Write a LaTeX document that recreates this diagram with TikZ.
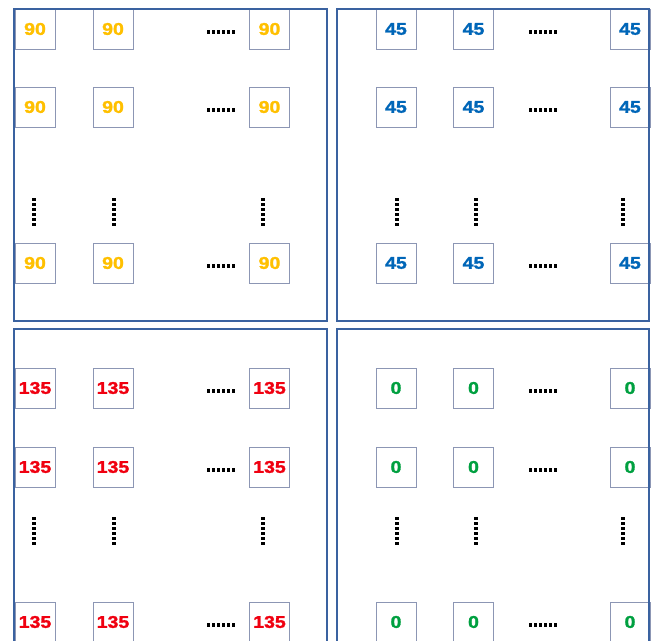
\documentclass[tikz,border=0pt]{standalone}
\usepackage{fontspec}
\setmainfont{Liberation Sans}
\newfontfamily\numfont{Liberation Sans Bold}[FakeStretch=1.15,FakeBold=1.6]
\definecolor{panelblue}{HTML}{3A62A0}
\definecolor{cellgray}{HTML}{8C96B4}
\definecolor{cgold}{HTML}{FFC000}
\definecolor{cblue}{HTML}{0066B8}
\definecolor{cred}{HTML}{F00010}
\definecolor{cgreen}{HTML}{00A040}
\tikzset{
  panel/.style={draw=panelblue, line width=2pt},
  cell/.style={draw=cellgray, line width=1pt, minimum size=40pt, inner sep=0pt, fill=white,
    font=\numfont\fontsize{17}{18}\selectfont},
  dotrow/.style={line width=3.2pt, dash pattern=on 3pt off 2pt, black}
}
\begin{document}
\begin{tikzpicture}[x=1pt,y=-1pt]
\clip (0,0) rectangle (656,640);
\fill[white] (0,0) rectangle (656,640);
% cells
\foreach \r/\y in {1/29,2/107,3/263}{
  \foreach \c/\x in {1/35,2/113,3/269.5}{
    \node[cell, text=cgold] (a\r\c) at (\x,\y) {90};
  }
  \foreach \c/\x in {1/396,2/473.5,3/630}{
    \node[cell, text=cblue] (b\r\c) at (\x,\y) {45};
  }
}
\foreach \r/\y in {1/388,2/467,3/622}{
  \foreach \c/\x in {1/35,2/113,3/269.5}{
    \node[cell, text=cred] (c\r\c) at (\x,\y) {135};
  }
  \foreach \c/\x in {1/396,2/473.5,3/630}{
    \node[cell, text=cgreen] (d\r\c) at (\x,\y) {0};
  }
}
% horizontal dots
\foreach \y in {32,110,266,391,470,625}{
  \draw[dotrow] (207,\y) -- (235,\y);
  \draw[dotrow] (529,\y) -- (557,\y);
}
% vertical dots
\foreach \x in {34,114,263,397,476,623}{
  \draw[dotrow] (\x,198) -- (\x,226);
  \draw[dotrow] (\x,517) -- (\x,545);
}
% panels
\draw[panel] (14,9) rectangle (327,321);
\draw[panel] (337,9) rectangle (649,321);
\draw[panel] (14,329) rectangle (327,660);
\draw[panel] (337,329) rectangle (649,660);
\end{tikzpicture}
\end{document}
